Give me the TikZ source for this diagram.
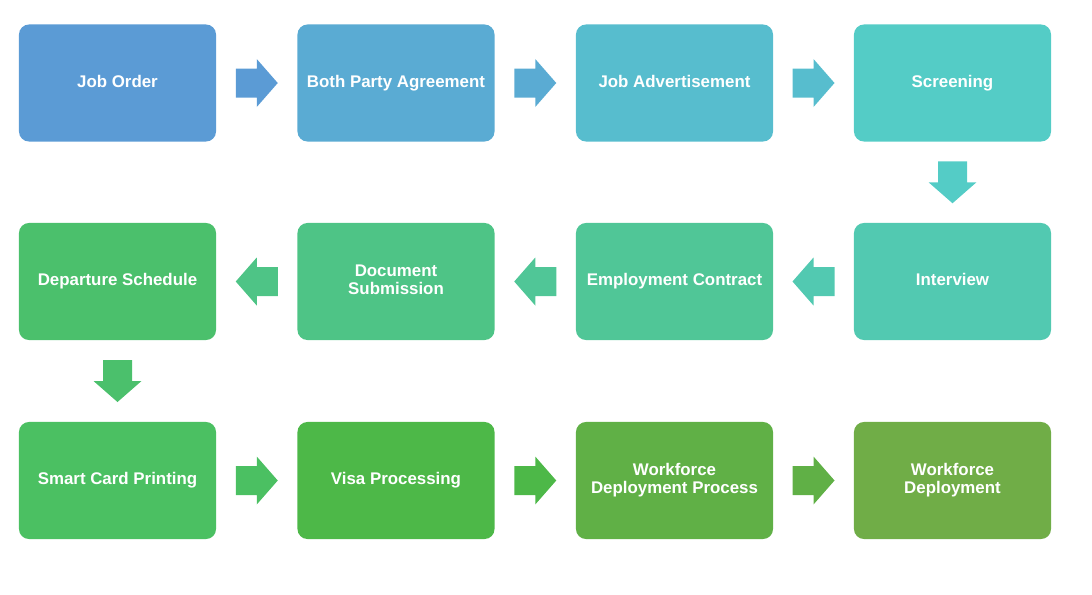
\documentclass[tikz,border=0pt]{standalone}
\usepackage{fontspec}
\setmainfont{Liberation Sans}
\usetikzlibrary{calc}
\definecolor{c1}{HTML}{5B9BD5}
\definecolor{c2}{HTML}{5AABD3}
\definecolor{c3}{HTML}{57BDCE}
\definecolor{c4}{HTML}{54CCC6}
\definecolor{c5}{HTML}{52C9B1}
\definecolor{c6}{HTML}{50C697}
\definecolor{c7}{HTML}{4EC486}
\definecolor{c8}{HTML}{4BC06C}
\definecolor{c9}{HTML}{4BC062}
\definecolor{c10}{HTML}{4DB848}
\definecolor{c11}{HTML}{60B046}
\definecolor{c12}{HTML}{70AD47}
\tikzset{
  stepbox/.style={fill=#1, draw=none, rounded corners=0.25cm, minimum width=4.925cm, minimum height=2.925cm,
    text=white, font=\fontsize{12}{13}\selectfont\bfseries, align=center, inner sep=2pt,
    execute at begin node=\vphantom{Jg}},
  blockarrow/.pic={\fill[pic actions] (-21,-14.5) -- (0,-14.5) -- (0,-24) -- (21,0) -- (0,24) -- (0,14.5) -- (-21,14.5) -- cycle;}
}
\begin{document}
\begin{tikzpicture}[x=0.025cm,y=0.025cm]
\useasboundingbox (0,0) rectangle (1092,-594);
\node[stepbox=c1] (n1) at (117.5,-83) {Job Order};
\node[stepbox=c2] (n2) at (396,-83) {Both Party Agreement};
\node[stepbox=c3] (n3) at (674.5,-83) {Job Advertisement};
\node[stepbox=c4] (n4) at (952.5,-83) {Screening};
\node[stepbox=c5] (n5) at (952.5,-281.5) {Interview};
\node[stepbox=c6] (n6) at (674.5,-281.5) {Employment Contract};
\node[stepbox=c7] (n7) at (396,-281.5) {Document\\Submission};
\node[stepbox=c8] (n8) at (117.5,-281.5) {Departure Schedule};
\node[stepbox=c9] (n9) at (117.5,-480.5) {Smart Card Printing};
\node[stepbox=c10] (n10) at (396,-480.5) {Visa Processing};
\node[stepbox=c11] (n11) at (674.5,-480.5) {Workforce\\Deployment Process};
\node[stepbox=c12] (n12) at (952.5,-480.5) {Workforce\\Deployment};
\pic[fill=c1] at ($(n1.east)!0.5!(n2.west)$) {blockarrow};
\pic[fill=c2] at ($(n2.east)!0.5!(n3.west)$) {blockarrow};
\pic[fill=c3] at ($(n3.east)!0.5!(n4.west)$) {blockarrow};
\pic[fill=c4, rotate=-90] at ($(n4.south)!0.5!(n5.north)$) {blockarrow};
\pic[fill=c5, rotate=180] at ($(n5.west)!0.5!(n6.east)$) {blockarrow};
\pic[fill=c6, rotate=180] at ($(n6.west)!0.5!(n7.east)$) {blockarrow};
\pic[fill=c7, rotate=180] at ($(n7.west)!0.5!(n8.east)$) {blockarrow};
\pic[fill=c8, rotate=-90] at ($(n8.south)!0.5!(n9.north)$) {blockarrow};
\pic[fill=c9] at ($(n9.east)!0.5!(n10.west)$) {blockarrow};
\pic[fill=c10] at ($(n10.east)!0.5!(n11.west)$) {blockarrow};
\pic[fill=c11] at ($(n11.east)!0.5!(n12.west)$) {blockarrow};
\end{tikzpicture}
\end{document}
